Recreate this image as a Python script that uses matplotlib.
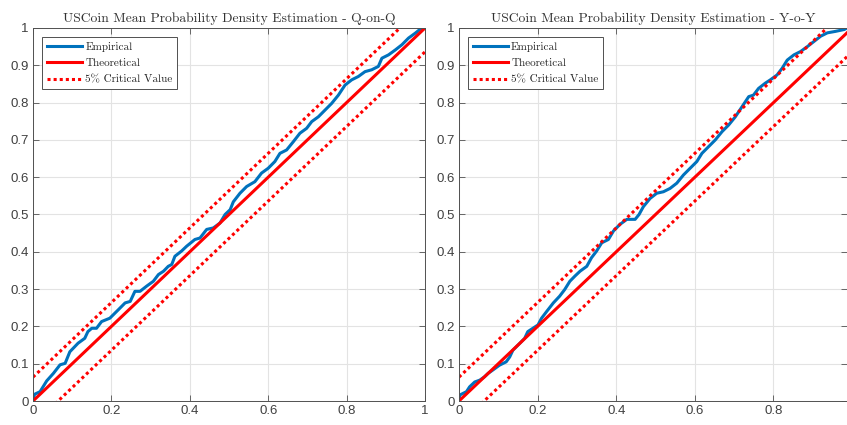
import numpy as np
import matplotlib
matplotlib.use("Agg")
import matplotlib.pyplot as plt

# empirical curves (x = theoretical prob, y = empirical)
qoq_x = [0.0, 0.004, 0.018, 0.035, 0.052, 0.069, 0.082, 0.094, 0.115, 0.132, 0.140, 0.150,
         0.162, 0.175, 0.196, 0.218, 0.235, 0.248, 0.260, 0.273, 0.290, 0.307, 0.320, 0.333,
         0.345, 0.354, 0.362, 0.379, 0.392, 0.413, 0.426, 0.443, 0.460, 0.477, 0.490, 0.503,
         0.511, 0.528, 0.545, 0.566, 0.583, 0.600, 0.617, 0.630, 0.647, 0.664, 0.681, 0.698,
         0.711, 0.728, 0.745, 0.762, 0.779, 0.796, 0.813, 0.830, 0.847, 0.864, 0.881, 0.890,
         0.907, 0.924, 0.941, 0.958, 0.975, 0.988, 1.0]
qoq_y = [0.003, 0.018, 0.025, 0.054, 0.074, 0.097, 0.101, 0.132, 0.155, 0.168, 0.186, 0.195,
         0.195, 0.213, 0.222, 0.245, 0.263, 0.267, 0.294, 0.294, 0.308, 0.321, 0.339, 0.348,
         0.361, 0.366, 0.388, 0.402, 0.415, 0.433, 0.437, 0.460, 0.464, 0.477, 0.500, 0.513,
         0.534, 0.557, 0.575, 0.588, 0.611, 0.624, 0.642, 0.664, 0.673, 0.695, 0.718, 0.731,
         0.749, 0.762, 0.780, 0.798, 0.820, 0.847, 0.861, 0.870, 0.883, 0.888, 0.897, 0.919,
         0.928, 0.941, 0.955, 0.973, 0.986, 0.997, 1.0]

yoy_x = [0.0, 0.002, 0.019, 0.027, 0.040, 0.053, 0.065, 0.074, 0.086, 0.103, 0.120, 0.129,
         0.137, 0.154, 0.167, 0.175, 0.188, 0.201, 0.210, 0.223, 0.240, 0.256, 0.269, 0.282,
         0.295, 0.308, 0.325, 0.337, 0.350, 0.363, 0.380, 0.393, 0.410, 0.427, 0.448, 0.458,
         0.469, 0.486, 0.503, 0.520, 0.537, 0.554, 0.571, 0.588, 0.605, 0.618, 0.635, 0.652,
         0.669, 0.686, 0.703, 0.720, 0.737, 0.749, 0.762, 0.779, 0.792, 0.809, 0.822, 0.835,
         0.852, 0.869, 0.886, 0.903, 0.920, 0.937, 0.958, 0.980, 0.987]
yoy_y = [0.003, 0.016, 0.025, 0.038, 0.051, 0.056, 0.065, 0.074, 0.083, 0.096, 0.105, 0.118,
         0.136, 0.154, 0.168, 0.186, 0.195, 0.204, 0.222, 0.240, 0.263, 0.281, 0.299, 0.321,
         0.335, 0.348, 0.361, 0.384, 0.402, 0.424, 0.433, 0.456, 0.474, 0.487, 0.487, 0.500,
         0.521, 0.543, 0.557, 0.561, 0.570, 0.584, 0.606, 0.624, 0.642, 0.664, 0.682, 0.700,
         0.722, 0.740, 0.762, 0.789, 0.816, 0.820, 0.838, 0.852, 0.861, 0.874, 0.892, 0.914,
         0.928, 0.937, 0.950, 0.964, 0.978, 0.987, 0.991, 0.996, 1.0]

crit = 0.064
titles = ["USCoin Mean Probability Density Estimation - Q-on-Q",
          "USCoin Mean Probability Density Estimation - Y-o-Y"]
xmax = [1.0, 0.987]

blue = "#0072BD"
red = "#FF0000"
axcol = "#505050"
txtcol = "#404040"

fig = plt.figure(figsize=(8.47, 4.25), dpi=100)
positions = [[33 / 847, 24 / 425, 392 / 847, 373 / 425],
             [459 / 847, 24 / 425, 388 / 847, 373 / 425]]
series = [(qoq_x, qoq_y), (yoy_x, yoy_y)]

for i in range(2):
    ax = fig.add_axes(positions[i])
    t = np.array([0.0, 1.0])
    ex, ey = series[i]
    ax.plot(ex, ey, color=blue, lw=2.2, label="Empirical")
    ax.plot(t, t, color=red, lw=2.2, label="Theoretical")
    ax.plot(t, t + crit, color=red, lw=2.2, ls=(0, (1, 1)), label="5% Critical Value")
    ax.plot(t, t - crit, color=red, lw=2.2, ls=(0, (1, 1)))
    ax.set_xlim(0, xmax[i])
    ax.set_ylim(0, 1)
    ax.set_xticks(np.arange(0, xmax[i] + 1e-9, 0.2))
    ax.set_yticks(np.arange(0, 1.0001, 0.1))
    ax.set_xticklabels(["0", "0.2", "0.4", "0.6", "0.8", "1"][:len(ax.get_xticks())])
    ax.set_yticklabels(["0"] + ["%.1f" % v for v in np.arange(0.1, 0.95, 0.1)] + ["1"])
    ax.grid(True, color="#e3e3e3", lw=0.8)
    ax.set_axisbelow(True)
    ax.tick_params(direction="in", length=4, width=0.6, colors=axcol, labelcolor=txtcol,
                   top=True, right=True, labelsize=9.5, pad=3)
    for lab in ax.get_xticklabels() + ax.get_yticklabels():
        lab.set_family("Liberation Sans")
    for s in ax.spines.values():
        s.set_color(axcol)
        s.set_linewidth(0.7)
    ax.set_title(titles[i], family="cmr10", fontsize=9.8, color="#333333", pad=4)
    leg = ax.legend(loc="upper left", bbox_to_anchor=(0.024, 0.975), fancybox=False,
                    framealpha=1, edgecolor=axcol, prop={"family": "cmr10", "size": 8},
                    handlelength=3.2, handletextpad=0.25, borderpad=0.4, labelspacing=0.6,
                    borderaxespad=0)
    leg.get_frame().set_linewidth(0.7)
    for txt in leg.get_texts():
        txt.set_color("#222222")

fig.savefig("out.png", dpi=100)
